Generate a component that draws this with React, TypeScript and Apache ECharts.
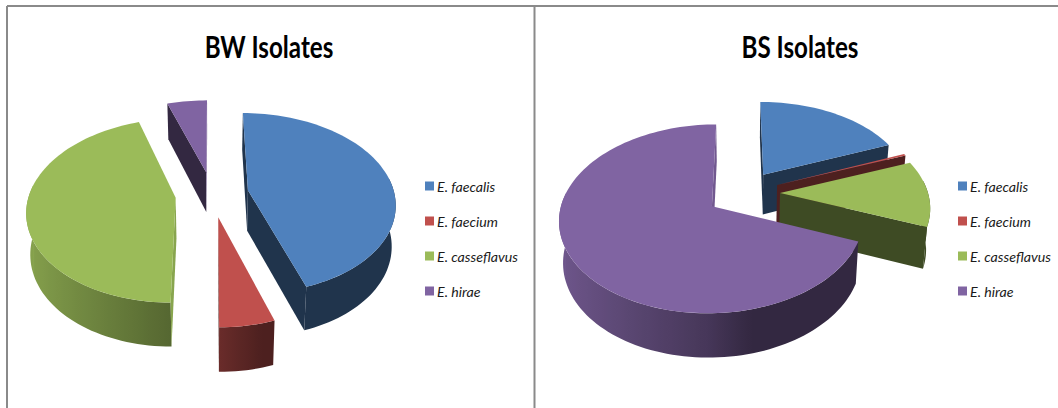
import React, { useEffect, useRef } from "react";
import * as echarts from "echarts";

const species = ["E. faecalis", "E. faecium", "E. casseflavus", "E. hirae"];
const bwCounts = [17, 2, 17, 2];
const bsShares = [19, 0.3, 11.5, 69.2];
const titles = ["BW Isolates", "BS Isolates"];

const topColors = ["#4f81bd", "#c0504d", "#9bbb59", "#8064a2"];
const frameColor = "#8a8a8a";
const chartFont = "Lato, 'Open Sans', sans-serif";

// Shape of the tilted, exploded pies (all lengths in px).
const EXPLODE = 0.25;
const PERSPECTIVE = 0.14;
const DEPTH = 40.5;
const BOTTOM_SCALE = 0.978;

type Pie = { cx: number; cy: number; rx: number; ry: number };
const bwPie: Pie = { cx: 212, cy: 194, rx: 146.5, ry: 91 };
const bsPie: Pie = { cx: 743, cy: 193, rx: 148, ry: 90.8 };

type Pt = [number, number];

function project(pie: Pie, u: number, v: number, lower: boolean): Pt {
  const p = 1 + PERSPECTIVE * v;
  const m = lower ? BOTTOM_SCALE : 1;
  return [
    pie.cx + u * pie.rx * p * m,
    pie.cy + v * pie.ry * p * m + (lower ? DEPTH * p : 0),
  ];
}

function shade(hex: string, f: number): string {
  const n = parseInt(hex.slice(1), 16);
  const c = (s: number) => Math.round(((n >> s) & 255) * f);
  return `rgb(${c(16)},${c(8)},${c(0)})`;
}

// Brightness of the outer wall, lit from the left.
function wallLight(deg: number): number {
  const nx = Math.sin((deg * Math.PI) / 180);
  if (nx >= 0.25) return 0.4;
  if (nx >= 0) return 0.4 + (0.25 - nx) * 0.6;
  return 0.55 - nx * 0.33;
}

function signedArea(pts: Pt[]): number {
  let a = 0;
  pts.forEach((q, i) => {
    const r = pts[(i + 1) % pts.length];
    a += q[0] * r[1] - r[0] * q[1];
  });
  return a / 2;
}

type Slice = { from: number; to: number; ex: number; ey: number; color: string };

function layoutSlices(values: number[]): Slice[] {
  const total = values.reduce((s, x) => s + x, 0);
  let acc = 0;
  return values.map((val, i) => {
    const from = (acc / total) * 360;
    acc += val;
    const to = (acc / total) * 360;
    const mid = (((from + to) / 2) * Math.PI) / 180;
    return {
      from,
      to,
      ex: EXPLODE * Math.sin(mid),
      ey: -EXPLODE * Math.cos(mid),
      color: topColors[i],
    };
  });
}

function drawSlice(pie: Pie, s: Slice) {
  const rim = (deg: number, lower: boolean) => {
    const a = (deg * Math.PI) / 180;
    return project(pie, s.ex + Math.sin(a), s.ey - Math.cos(a), lower);
  };
  const steps = Math.max(2, Math.ceil((s.to - s.from) / 2));
  const top: Pt[] = [project(pie, s.ex, s.ey, false)];
  for (let i = 0; i <= steps; i++) top.push(rim(s.from + ((s.to - s.from) * i) / steps, false));

  const children: any[] = [];

  // Outer wall: only the part of the rim that faces the viewer.
  const wFrom = Math.max(s.from, 82);
  const wTo = Math.min(s.to, 278);
  if (wTo > wFrom) {
    const n = Math.max(2, Math.ceil((wTo - wFrom) / 2));
    const upper: Pt[] = [];
    const lowerEdge: Pt[] = [];
    const degs: number[] = [];
    for (let i = 0; i <= n; i++) {
      const d = wFrom + ((wTo - wFrom) * i) / n;
      degs.push(d);
      upper.push(rim(d, false));
      lowerEdge.push(rim(d, true));
    }
    const xs = upper.map((q) => q[0]);
    const x0 = Math.min(...xs);
    const x1 = Math.max(...xs);
    const stops = degs
      .map((d, i) => ({
        offset: x1 > x0 ? (xs[i] - x0) / (x1 - x0) : 0,
        color: shade(s.color, wallLight(d)),
      }))
      .sort((a, b) => a.offset - b.offset);
    children.push({
      type: "polygon",
      shape: { points: [...upper, ...lowerEdge.reverse()] },
      style: { fill: new echarts.graphic.LinearGradient(0, 0, 1, 0, stops) },
    });
  }

  // Flat cut faces, drawn only when they turn towards the viewer.
  // A face looking straight to the right stays light; the rest fall into shadow.
  [
    { deg: s.from, wanted: -1, normal: s.from - 90 },
    { deg: s.to, wanted: 1, normal: s.to + 90 },
  ].forEach(({ deg, wanted, normal }) => {
    const quad: Pt[] = [
      project(pie, s.ex, s.ey, false),
      rim(deg, false),
      rim(deg, true),
      project(pie, s.ex, s.ey, true),
    ];
    if (Math.sign(signedArea(quad)) === wanted) {
      const light = Math.sin((normal * Math.PI) / 180) > 0.9 ? 0.88 : 0.4;
      children.push({
        type: "polygon",
        shape: { points: quad },
        style: { fill: shade(s.color, light) },
      });
    }
  });

  children.push({ type: "polygon", shape: { points: top }, style: { fill: s.color } });
  return { type: "group", children };
}

function pieSeries(pie: Pie, values: number[], key: string) {
  const slices = layoutSlices(values);
  return slices.map((s, i) => ({
    id: `${key}-${i}`,
    type: "custom" as const,
    name: species[i],
    coordinateSystem: "none",
    silent: true,
    // Back slices are painted first so that front slices overlap them.
    z: 60 + Math.round(s.ey * 100),
    itemStyle: { color: topColors[i] },
    data: [values[i]],
    renderItem: () => drawSlice(pie, s),
  }));
}

function legendFor(left: number) {
  return {
    orient: "vertical" as const,
    left,
    top: 178,
    itemWidth: 9,
    itemHeight: 9,
    itemGap: 19,
    icon: "rect",
    selectedMode: false,
    padding: 0,
    textStyle: {
      fontFamily: chartFont,
      fontStyle: "italic" as const,
      fontSize: 14.2,
      lineHeight: 16,
      color: "#1a1a1a",
      padding: [0, 0, 0, -2],
    },
    data: species.map((name, i) => ({ name, itemStyle: { color: topColors[i] } })),
  };
}

// Chart heading, tall and condensed.
const heading = (text: string, x: number) => ({
  type: "text",
  silent: true,
  x,
  y: 46,
  scaleX: 0.78,
  style: {
    text,
    fill: "#000000",
    font: `bold 31px ${chartFont}`,
    textAlign: "center",
    textVerticalAlign: "middle",
  },
});

const frameLine = (x1: number, y1: number, x2: number, y2: number) => ({
  type: "line",
  silent: true,
  shape: { x1, y1, x2, y2 },
  style: { stroke: frameColor, lineWidth: 2 },
});

export default function App() {
  const ref = useRef<HTMLDivElement>(null);
  useEffect(() => {
    document.body.style.margin = "0";
    const chart = echarts.init(ref.current!, null, { renderer: "svg" });
    chart.setOption({
      animation: false,
      backgroundColor: "#ffffff",
      legend: [legendFor(425), legendFor(958)],
      graphic: [
        frameLine(7, 6, 1058, 6),
        frameLine(7, 6, 7, 408),
        frameLine(534.5, 6, 534.5, 408),
        heading(titles[0], 269),
        heading(titles[1], 800),
      ],
      series: [...pieSeries(bwPie, bwCounts, "bw"), ...pieSeries(bsPie, bsShares, "bs")],
    });
    return () => chart.dispose();
  }, []);
  return <div ref={ref} style={{ width: 1058, height: 408 }} />;
}
